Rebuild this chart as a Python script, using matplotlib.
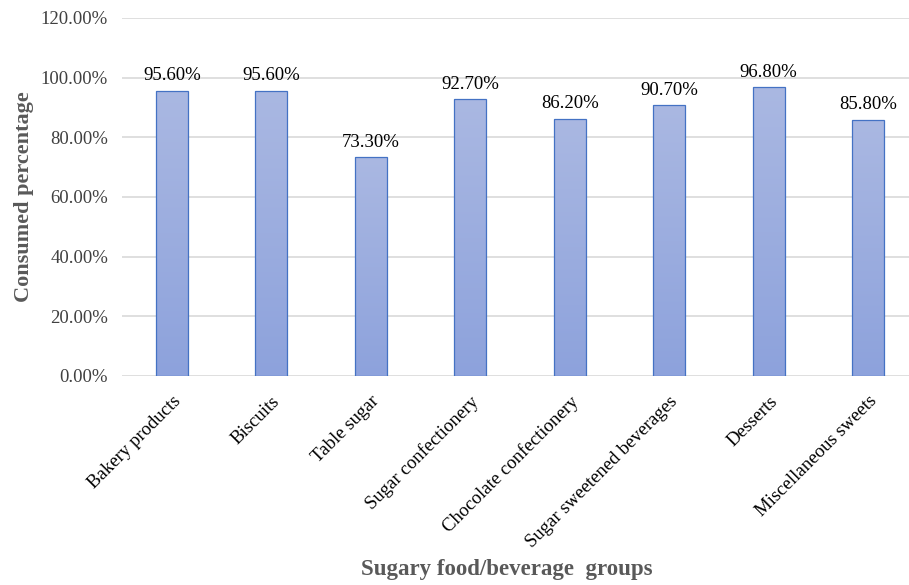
import numpy as np
import matplotlib.pyplot as plt
from matplotlib.colors import LinearSegmentedColormap

plt.rcParams['font.family'] = ['Liberation Serif', 'DejaVu Serif']

groups = ["Bakery products", "Biscuits", "Table sugar", "Sugar confectionery",
          "Chocolate confectionery", "Sugar sweetened beverages", "Desserts",
          "Miscellaneous sweets"]
consumed = [95.6, 95.6, 73.3, 92.7, 86.2, 90.7, 96.8, 85.8]
yticks = [0, 20, 40, 60, 80, 100, 120]

fig = plt.figure(figsize=(9.09, 5.85), dpi=100)
ax = fig.add_axes([122 / 909, (585 - 376) / 585, 796 / 909, 358 / 585])

x = np.arange(len(groups))
bars = ax.bar(x, consumed, width=0.32, color='none', edgecolor='#4472C4',
              linewidth=0.9, zorder=3)

# vertical gradient fill, lighter at the top
cmap = LinearSegmentedColormap.from_list('g', ['#8DA2DC', '#AAB8E2'])
grad = np.linspace(0, 1, 256).reshape(-1, 1)
for b in bars:
    im = ax.imshow(grad, cmap=cmap, origin='lower', aspect='auto',
                   extent=[b.get_x(), b.get_x() + b.get_width(), 0, b.get_height()],
                   zorder=2)
    im.set_clip_path(b)

for xi, v in zip(x, consumed):
    ax.text(xi, v + 2.2, f"{v:.2f}%", ha='center', va='bottom', fontsize=13.5,
            color='black')

ax.set_xlim(-0.5, 7.5)
ax.set_ylim(0, 120)
ax.set_yticks(yticks)
ax.set_yticklabels([f"{t:.2f}%" for t in yticks], fontsize=13.5, color='#404040')
ax.set_xticks(x)
ax.set_xticklabels(groups, rotation=45, ha='right', rotation_mode='anchor',
                   fontsize=13.5, color='black')
ax.tick_params(axis='both', length=0, pad=10)
ax.tick_params(axis='x', pad=12)
ax.grid(axis='y', color='#D9D9D9', linewidth=1.2, zorder=0)
ax.set_axisbelow(True)
for s in ax.spines.values():
    s.set_visible(False)

ax.set_ylabel("Consumed percentage", fontsize=16, fontweight='bold',
              color='#595959', labelpad=5)
fig.text(0.557, 0.008, "Sugary food/beverage  groups", fontsize=16.5,
         fontweight='bold', color='#595959', ha='center', va='bottom')

fig.savefig('out.png', dpi=100)
